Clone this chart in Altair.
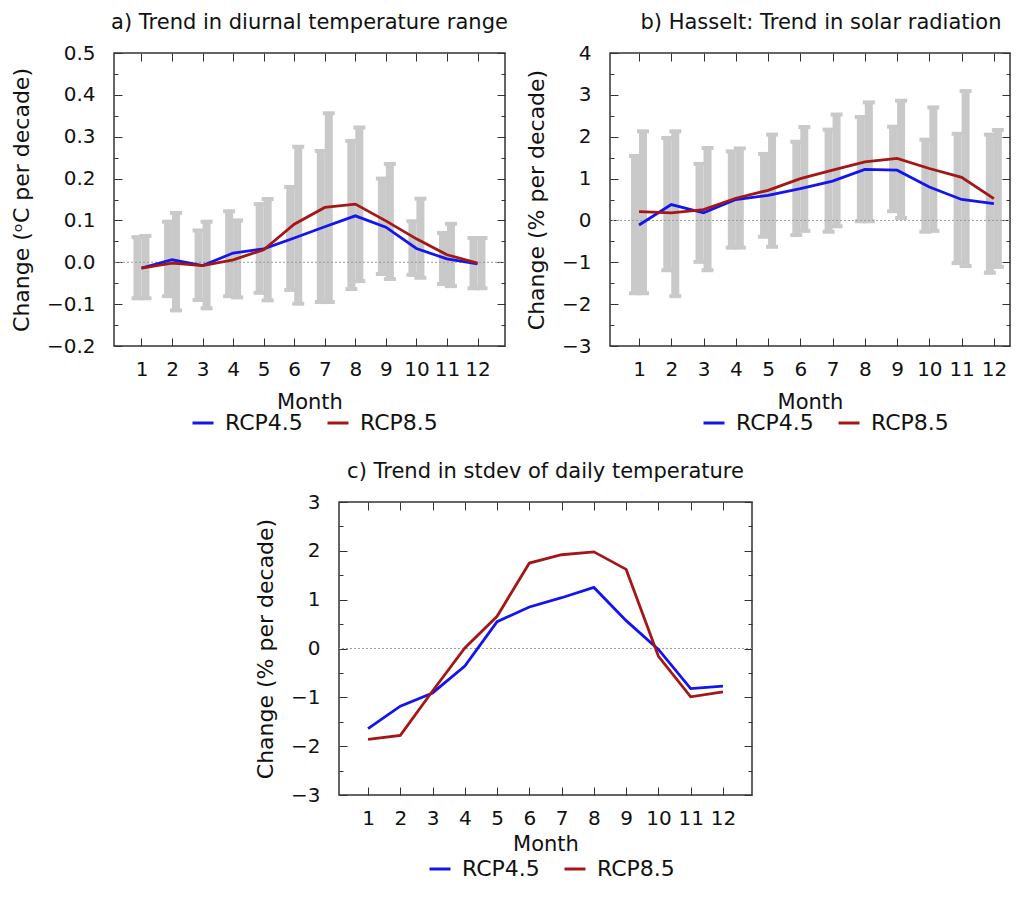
import altair as alt
import pandas as pd

# ---------------- data ----------------
months = [1, 2, 3, 4, 5, 6, 7, 8, 9, 10, 11, 12]
scenarios = ["RCP4.5", "RCP8.5"]

# a) diurnal temperature range (degC per decade)
a_rcp45 = [-0.014, 0.006, -0.008, 0.022, 0.032, 0.058, 0.085, 0.111, 0.084, 0.033, 0.008, -0.004]
a_rcp85 = [-0.014, -0.002, -0.008, 0.006, 0.030, 0.091, 0.131, 0.139, 0.099, 0.056, 0.018, -0.002]
a_lo_left = [-0.086, -0.081, -0.090, -0.081, -0.073, -0.066, -0.095, -0.064, -0.028, -0.030, -0.052, -0.062]
a_hi_left = [0.060, 0.097, 0.076, 0.122, 0.139, 0.180, 0.266, 0.290, 0.200, 0.098, 0.070, 0.058]
a_lo_right = [-0.086, -0.115, -0.110, -0.084, -0.091, -0.099, -0.095, -0.045, -0.040, -0.037, -0.057, -0.062]
a_hi_right = [0.063, 0.118, 0.097, 0.100, 0.151, 0.276, 0.356, 0.322, 0.235, 0.152, 0.092, 0.058]

# b) solar radiation (% per decade)
b_rcp45 = [-0.11, 0.38, 0.18, 0.50, 0.60, 0.76, 0.94, 1.22, 1.20, 0.80, 0.50, 0.40]
b_rcp85 = [0.21, 0.18, 0.26, 0.53, 0.72, 1.00, 1.20, 1.40, 1.48, 1.24, 1.03, 0.52]
b_lo_left = [-1.74, -1.19, -0.99, -0.65, -0.39, -0.35, -0.27, -0.02, 0.22, -0.27, -1.02, -1.25]
b_hi_left = [1.54, 1.97, 1.35, 1.65, 1.59, 1.88, 2.17, 2.47, 2.24, 1.93, 2.07, 2.05]
b_lo_right = [-1.74, -1.81, -1.19, -0.65, -0.63, -0.25, -0.14, -0.02, 0.06, -0.25, -1.09, -1.11]
b_hi_right = [2.13, 2.13, 1.73, 1.72, 2.05, 2.23, 2.53, 2.82, 2.86, 2.70, 3.09, 2.16]

# c) stdev of daily temperature (% per decade)
c_rcp45 = [-1.64, -1.18, -0.91, -0.36, 0.55, 0.85, 1.04, 1.25, 0.57, -0.02, -0.82, -0.77]
c_rcp85 = [-1.86, -1.78, -0.87, 0.01, 0.66, 1.75, 1.92, 1.98, 1.62, -0.16, -0.99, -0.89]

a_major = [-0.2, -0.1, 0.0, 0.1, 0.2, 0.3, 0.4, 0.5]
a_minor = [-0.15, -0.05, 0.05, 0.15, 0.25, 0.35, 0.45]
b_major = [-3, -2, -1, 0, 1, 2, 3, 4]
b_minor = [-2.5, -1.5, -0.5, 0.5, 1.5, 2.5, 3.5]
c_major = [-3, -2, -1, 0, 1, 2, 3]
c_minor = [-2.5, -1.5, -0.5, 0.5, 1.5, 2.5]

# ---------------- style ----------------
FONT = "DejaVu Sans"
BLUE = "#1414ee"
RED = "#a31717"
GREY = "#c9c9c9"
FRAME = "#333333"
H = 293


def panel(title, ytitle, ydom, ymajor, yminor, yfmt, W, xdom, r45, r85,
          bars=None, legend_x=80, legend_y=358, title_dx=0, month_pad=12):
    yscale = alt.Scale(domain=ydom, nice=False, zero=False)
    xscale = alt.Scale(domain=xdom, nice=False, zero=False)
    xaxis = alt.Axis(values=months, format="d", title="Month", grid=True,
                     gridDash=[8, H - 16], gridColor=FRAME, gridWidth=1,
                     ticks=False, domain=False, labelFontSize=20,
                     labelPadding=13, labelFlush=False, labelOverlap=False,
                     titleFontSize=21, titlePadding=month_pad)

    def X(field):
        return alt.X(field, type="quantitative", scale=xscale, axis=xaxis)

    layers = []
    if bars is not None:
        lo_l, hi_l, lo_r, hi_r = bars
        bdf = pd.DataFrame({"month": months, "lo_l": lo_l, "hi_l": hi_l,
                            "lo_r": lo_r, "hi_r": hi_r})
        for lo, hi, off in (("lo_l", "hi_l", -4), ("lo_r", "hi_r", 4)):
            layers.append(
                alt.Chart(bdf).mark_rule(color=GREY, strokeWidth=8, xOffset=off)
                .encode(x=X("month"),
                        y=alt.Y(lo, type="quantitative", scale=yscale, axis=None),
                        y2=alt.Y2(hi)))
            for f in (lo, hi):
                layers.append(
                    alt.Chart(bdf).mark_tick(color=GREY, orient="horizontal",
                                             size=12, thickness=4, opacity=1,
                                             xOffset=off)
                    .encode(x=X("month"),
                            y=alt.Y(f, type="quantitative", scale=yscale, axis=None)))

    zdf = pd.DataFrame({"zero": [0]})
    layers.append(
        alt.Chart(zdf).mark_rule(color="#9a9a9a", strokeDash=[2, 2], strokeWidth=1)
        .encode(y=alt.Y("zero:Q", scale=yscale,
                        axis=alt.Axis(orient="left", values=yminor, labels=False,
                                      ticks=False, domain=False, grid=True,
                                      gridDash=[4, W - 8], gridColor=FRAME,
                                      gridWidth=1, title=None))))

    ldf = pd.DataFrame({"month": months + months,
                        "value": r45 + r85,
                        "scenario": [scenarios[0]] * 12 + [scenarios[1]] * 12})
    layers.append(
        alt.Chart(ldf).mark_line(strokeWidth=2.8)
        .encode(
            x=X("month"),
            y=alt.Y("value:Q", scale=yscale,
                    axis=alt.Axis(orient="left", values=ymajor, format=yfmt,
                                  grid=True, gridDash=[8, W - 16], gridColor=FRAME,
                                  gridWidth=1, ticks=False, domain=False,
                                  labelFontSize=20, labelPadding=19,
                                  labelFlush=False, title=ytitle,
                                  titleFontSize=22, titlePadding=13)),
            color=alt.Color("scenario:N",
                            scale=alt.Scale(domain=scenarios, range=[BLUE, RED]),
                            legend=alt.Legend(orient="none", legendX=legend_x,
                                              legendY=legend_y, direction="horizontal",
                                              title=None, symbolType="stroke",
                                              symbolStrokeWidth=3, symbolSize=440,
                                              labelFontSize=22, labelOffset=10,
                                              columnPadding=18)),
            order="month:Q"))

    return (alt.layer(*layers)
            .resolve_axis(y="independent")
            .properties(width=W, height=H,
                        title=alt.Title(title, fontSize=21, offset=10,
                                        anchor="middle", dx=title_dx)))


pa = panel("a) Trend in diurnal temperature range", "Change (ᵒC per decade)",
           [-0.2, 0.5], a_major, a_minor, ".1f", 391, [0.1, 12.9],
           a_rcp45, a_rcp85, bars=(a_lo_left, a_hi_left, a_lo_right, a_hi_right),
           legend_x=77)
pb = panel("b) Hasselt: Trend in solar radiation", "Change (% per decade)",
           [-3, 4], b_major, b_minor, "d", 400, [0.1, 12.5],
           b_rcp45, b_rcp85, bars=(b_lo_left, b_hi_left, b_lo_right, b_hi_right),
           legend_x=92, title_dx=11)
pc = panel("c) Trend in stdev of daily temperature", "Change (% per decade)",
           [-3, 3], c_major, c_minor, "d", 413, [0.1, 12.9],
           c_rcp45, c_rcp85, legend_x=89, legend_y=355, month_pad=5)

spacer = (alt.Chart(pd.DataFrame({"v": [0]})).mark_point(opacity=0)
          .properties(width=139, height=10, view=alt.ViewBackground(stroke=None)))

top = alt.hconcat(pa, pb, spacing=15).resolve_legend(color="independent").resolve_scale(color="independent")
bottom = alt.hconcat(spacer, pc, spacing=0).resolve_legend(color="independent").resolve_scale(color="independent")

chart = (alt.vconcat(top, bottom, spacing=25)
         .resolve_legend(color="independent")
         .resolve_scale(color="independent")
         .properties(padding={"left": 1, "top": 3, "right": 0, "bottom": 0})
         .configure(font=FONT)
         .configure_view(stroke=FRAME, strokeWidth=1.5)
         .configure_axis(labelColor="#111111", titleColor="#111111",
                         titleFontWeight="normal", labelFont=FONT, titleFont=FONT)
         .configure_title(font=FONT, fontWeight="normal", color="#111111")
         .configure_legend(labelFont=FONT, labelColor="#111111"))

chart.save("out.html", embed_options={"renderer": "svg", "actions": False})
